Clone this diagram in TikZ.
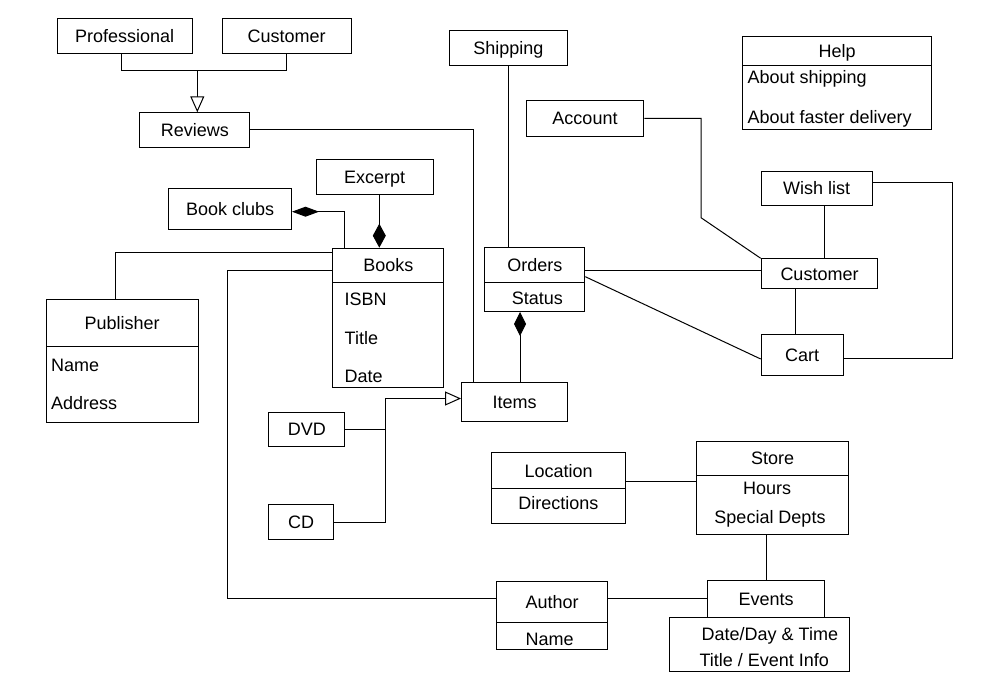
\documentclass[tikz,border=0pt]{standalone}
\usepackage{fontspec}
\setmainfont{Liberation Sans}
\usetikzlibrary{arrows.meta,calc}
\begin{document}
\begin{tikzpicture}[x=1pt,y=-1pt,
  every node/.style={font=\fontsize{18}{21}\selectfont, text height=12.9pt, text depth=0pt},
  box/.style={draw, line width=1pt, inner sep=0pt, anchor=north west},
  lbl/.style={inner sep=0pt},
  conn/.style={line width=1pt},
  dend/.style={-{Diamond[length=24pt,width=13pt]}},
  dstart/.style={{Diamond[length=24pt,width=12pt]}-},
  dclub/.style={{Diamond[length=27pt,width=10pt]}-},
  gen/.style={-{Triangle[open,length=16pt,width=14pt,fill=white]}}]
\useasboundingbox (0,0) rectangle (1000,700);

% boxes
\node[box, minimum width=135pt, minimum height=35pt] (prof) at (56.7,18) {Professional};
\node[box, minimum width=129pt, minimum height=35pt] (cust1) at (221.7,18) {Customer};
\node[box, minimum width=110pt, minimum height=34.4pt] (reviews) at (139.3,112.3) {Reviews};
\node[box, minimum width=117pt, minimum height=35pt] (excerpt) at (315.7,159.3) {Excerpt};
\node[box, minimum width=122.7pt, minimum height=40.7pt] (bookclubs) at (168.3,188.3) {Book clubs};
\node[box, minimum width=111pt, minimum height=34.6pt] (books) at (332.3,247.7) {Books};
\node[box, minimum width=111pt, minimum height=105pt] (booksA) at (332.3,282.3) {};
\node[lbl, anchor=west] (isbn) at (344.5,299) {ISBN};
\node[lbl, anchor=west] (btitle) at (344.5,337.7) {Title};
\node[lbl, anchor=west] (bdate) at (344.5,375.7) {Date};

\node[box, minimum width=152pt, minimum height=46.7pt] (publisher) at (45.7,299.3) {Publisher};
\node[box, minimum width=152pt, minimum height=76.3pt] (publisherA) at (45.7,346) {};
\node[lbl, anchor=west] (pname) at (51,365) {Name};
\node[lbl, anchor=west] (paddr) at (51,403.3) {Address};

\node[box, minimum width=76pt, minimum height=34.3pt] (dvd) at (268.3,411.7) {DVD};
\node[box, minimum width=64.4pt, minimum height=35pt] (cd) at (268.3,504.3) {CD};
\node[box, minimum width=106.3pt, minimum height=39.3pt] (items) at (461,381.7) {Items};

\node[box, minimum width=117.7pt, minimum height=35pt] (shipping) at (449,30) {Shipping};
\node[box, minimum width=117.6pt, minimum height=35.4pt] (account) at (525.7,100.3) {Account};

\node[box, minimum width=188.4pt, minimum height=29pt] (help) at (742.3,36.3) {Help};
\node[box, minimum width=188.4pt, minimum height=64pt] (helpA) at (742.3,65.3) {};
\node[lbl, anchor=west] (hship) at (747.3,76.7) {About shipping};
\node[lbl, anchor=west] (hfast) at (747.3,116.7) {About faster delivery};

\node[box, minimum width=100pt, minimum height=35pt] (orders) at (484.3,247.3) {Orders};
\node[box, minimum width=100pt, minimum height=28.7pt] (ordersA) at (484.3,282.3) {};
\node[lbl] (status) at (537.3,298.3) {Status};

\node[box, minimum width=111pt, minimum height=34.5pt] (wish) at (760.7,170.7) {Wish list};
\node[box, minimum width=116.6pt, minimum height=30pt] (customer) at (760.7,258.3) {Customer};
\node[box, minimum width=82pt, minimum height=41pt] (cart) at (760.7,334) {Cart};

\node[box, minimum width=134.3pt, minimum height=36pt] (location) at (491,452.3) {Location};
\node[box, minimum width=134.3pt, minimum height=34.4pt] (locationA) at (491,488.3) {};
\node[lbl] (directions) at (558.3,503.3) {Directions};

\node[box, minimum width=152.6pt, minimum height=34.3pt] (store) at (695.7,440.7) {Store};
\node[box, minimum width=152.6pt, minimum height=59pt] (storeA) at (695.7,475) {};
\node[lbl] (hours) at (767,488.3) {Hours};
\node[lbl] (depts) at (770,516.7) {Special Depts};

\node[box, minimum width=116.7pt, minimum height=37.3pt] (events) at (707.3,580) {Events};
\node[box, minimum width=180.3pt, minimum height=53.7pt] (eventsA) at (669,617.3) {};
\node[lbl, anchor=west] (edate) at (701.5,634) {Date/Day \& Time};
\node[lbl, anchor=west] (etitle) at (699.3,660) {Title / Event Info};

\node[box, minimum width=111.3pt, minimum height=41pt] (author) at (496,580.7) {Author};
\node[box, minimum width=111.3pt, minimum height=27.3pt] (authorA) at (496,621.7) {};
\node[lbl] (aname) at (549.7,639.3) {Name};

% connectors
\coordinate (pj) at (121.7,71);
\coordinate (cj) at (286,71);
\coordinate (rj) at (197.3,71);
\draw[conn] (prof.south -| pj) -- (pj) -- (cj) -- (cust1.south -| cj);
\draw[conn,gen] (rj) -- (rj |- reviews.north);

\coordinate (ri) at (473.3,130);
\draw[conn] (reviews.east |- ri) -- (ri) -- (ri |- items.north);

\coordinate (ex) at (379.3,200);
\draw[conn,dend] (excerpt.south -| ex) -- (books.north -| ex);

\coordinate (bc) at (344.3,211.7);
\draw[conn,dclub] (bookclubs.east |- bc) -- (bc) -- (bc |- books.north);

\coordinate (pb) at (115.7,252.3);
\draw[conn] (publisher.north -| pb) -- (pb) -- (pb -| books.west);

\coordinate (ba1) at (227.3,270.7);
\coordinate (ba2) at (227.3,598.3);
\draw[conn] (ba1 -| books.west) -- (ba1) -- (ba2) -- (ba2 -| author.west);

\coordinate (g1) at (385.7,398.5);
\draw[conn] (dvd.east) -- (dvd.east -| g1);
\draw[conn,gen] (cd.east) -| (g1) -- (g1 -| items.west);

\coordinate (sh) at (508.3,100);
\draw[conn] (shipping.south -| sh) -- (orders.north -| sh);

\coordinate (oi) at (520,350);
\draw[conn,dstart] (ordersA.south -| oi) -- (items.north -| oi);

\coordinate (oc) at (650,270.7);
\draw[conn] (orders.east |- oc) -- (customer.west |- oc);

\coordinate (od1) at (584.3,276.7);
\coordinate (od2) at (760.7,359);
\draw[conn] (od1 -| orders.east) -- (od2 -| cart.west);

\coordinate (ac1) at (701,118.3);
\coordinate (ac2) at (701,217.7);
\draw[conn] (account.east |- ac1) -- (ac1) -- (ac2) -- (customer.north west);

\coordinate (wc) at (824.7,230);
\draw[conn] (wish.south -| wc) -- (customer.north -| wc);
\coordinate (cc) at (795.7,310);
\draw[conn] (customer.south -| cc) -- (cart.north -| cc);
\coordinate (wl1) at (952.7,182.7);
\coordinate (wl2) at (952.7,358.3);
\draw[conn] (wish.east |- wl1) -- (wl1) -- (wl2) -- (cart.east |- wl2);

\coordinate (ls) at (660,481.7);
\draw[conn] (location.east |- ls) -- (storeA.west |- ls);
\coordinate (se) at (766.7,560);
\draw[conn] (storeA.south -| se) -- (events.north -| se);
\coordinate (ae) at (650,598.3);
\draw[conn] (author.east |- ae) -- (events.west |- ae);
\end{tikzpicture}
\end{document}
